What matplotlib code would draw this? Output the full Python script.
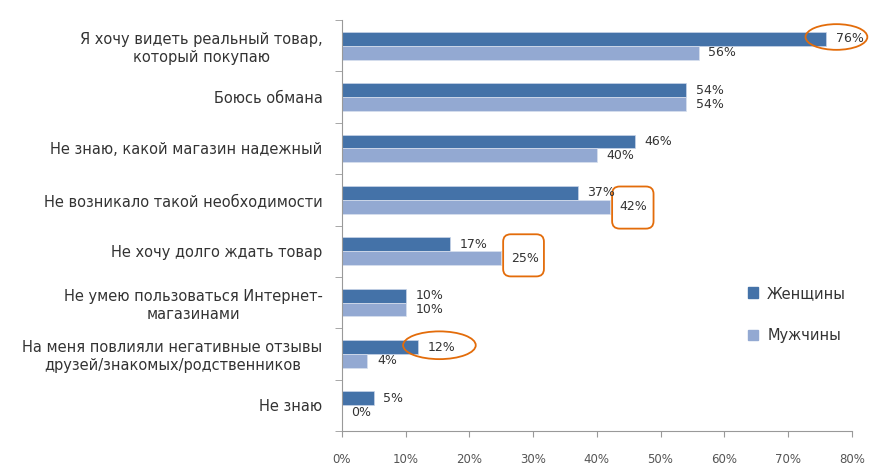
import matplotlib.pyplot as plt
from matplotlib.patches import Patch, Ellipse, FancyBboxPatch

plt.rcParams['font.family'] = ['DejaVu Sans']

categories = [
    "Я хочу видеть реальный товар,\nкоторый покупаю",
    "Боюсь обмана",
    "Не знаю, какой магазин надежный",
    "Не возникало такой необходимости",
    "Не хочу долго ждать товар",
    "Не умею пользоваться Интернет-\nмагазинами",
    "На меня повлияли негативные отзывы\nдрузей/знакомых/родственников",
    "Не знаю",
]
women = [76, 54, 46, 37, 17, 10, 12, 5]
men = [56, 54, 40, 42, 25, 10, 4, 0]
series_names = ["Женщины", "Мужчины"]
xticks = [0, 10, 20, 30, 40, 50, 60, 70, 80]

dark = "#4472a8"
light = "#93a9d2"
orange = "#e36c0a"
txt = "#333333"

fig = plt.figure(figsize=(8.7, 4.66), dpi=100)
ax = fig.add_axes([0.393, 0.075, 0.586, 0.882])

h = 0.27
ys = list(range(len(categories)))
ax.barh([y - h / 2 for y in ys], women, height=h, color=dark, edgecolor="#c8d4e8", linewidth=0.5)
ax.barh([y + h / 2 for y in ys], men, height=h, color=light, edgecolor="#d8e0ee", linewidth=0.5)

for y, w, m in zip(ys, women, men):
    ax.text(w + 1.5, y - h / 2, f"{w}%", va="center", ha="left", fontsize=9, color=txt)
    ax.text(m + 1.5, y + h / 2, f"{m}%", va="center", ha="left", fontsize=9, color=txt)

ax.set_xlim(0, 80)
ax.set_ylim(len(categories) - 0.5, -0.5)
ax.set_xticks(xticks)
ax.set_xticklabels([f"{t}%" for t in xticks], fontsize=8.5, color="#555555")
ax.tick_params(axis="x", length=4, color="#999999", pad=12)

ax.set_yticks(ys)
ax.set_yticklabels(categories, fontsize=10.5, color=txt, multialignment="center", linespacing=1.25)
ax.tick_params(axis="y", which="major", length=0, pad=14)
ax.set_yticks([y - 0.5 for y in range(len(categories) + 1)], minor=True)
ax.tick_params(axis="y", which="minor", length=5, color="#999999")

for s in ["top", "right"]:
    ax.spines[s].set_visible(False)
for s in ["left", "bottom"]:
    ax.spines[s].set_color("#999999")

# orange highlight marks
ax.add_patch(Ellipse((77.6, -0.17), 9.7, 0.5, fill=False, edgecolor=orange, lw=1.3, clip_on=False))
ax.add_patch(Ellipse((15.3, 5.83), 11.4, 0.54, fill=False, edgecolor=orange, lw=1.3, clip_on=False))
ax.add_patch(FancyBboxPatch((42.4, 2.74), 6.5, 0.82, boxstyle="round,pad=0,rounding_size=1.2",
                            mutation_aspect=0.12, fill=False, edgecolor=orange, lw=1.3, clip_on=False))
ax.add_patch(FancyBboxPatch((25.3, 3.67), 6.4, 0.82, boxstyle="round,pad=0,rounding_size=1.2",
                            mutation_aspect=0.12, fill=False, edgecolor=orange, lw=1.3, clip_on=False))

handles = [Patch(color=dark), Patch(color=light)]
fig.legend(handles, series_names, loc="center left", bbox_to_anchor=(0.845, 0.325),
           frameon=False, fontsize=10.5, handlelength=0.7, handleheight=0.7,
           handletextpad=0.6, labelspacing=1.9, labelcolor=txt)

fig.savefig("out.png", dpi=100)
